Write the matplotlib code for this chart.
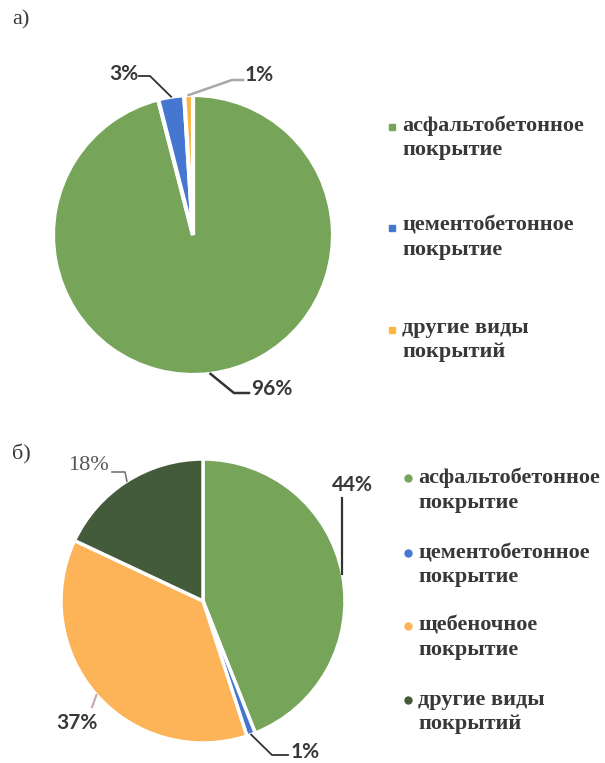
import numpy as np
import matplotlib
matplotlib.use("Agg")
import matplotlib.pyplot as plt

# --- data ---
labels_a = ['асфальтобетонное\nпокрытие', 'цементобетонное\nпокрытие', 'другие виды\nпокрытий']
values_a = [96, 3, 1]
colors_a = ['#76A55A', '#4677D0', '#FBB540']

labels_b = ['асфальтобетонное\nпокрытие', 'цементобетонное\nпокрытие',
            'щебеночное\nпокрытие', 'другие виды\nпокрытий']
values_b = [44, 1, 37, 18]
colors_b = ['#76A55A', '#4677D0', '#FDB357', '#435A3B']

W, H = 605, 763
TXT = '#383838'
fig = plt.figure(figsize=(W / 100, H / 100), dpi=100)


def pie_axes(cx, cy, r):
    ax = fig.add_axes([(cx - r) / W, (H - cy - r) / H, 2 * r / W, 2 * r / H])
    return ax


def rim(w, k=1.0):
    a = np.deg2rad((w.theta1 + w.theta2) / 2)
    return k * np.cos(a), k * np.sin(a)


def px(x, y, cx, cy, r):
    return (x - cx) / r, (cy - y) / r


# overlay axis in pixel coords for headings / legends
ov = fig.add_axes([0, 0, 1, 1])
ov.set_xlim(0, W)
ov.set_ylim(H, 0)
ov.axis('off')

serif = 'Liberation Serif'
ov.text(12, 20, 'а)', fontsize=16, family=serif, color=TXT, va='center')
ov.text(12, 454, 'б)', fontsize=16, family=serif, color=TXT, va='center')

lab = dict(family='Lato', weight='bold', fontsize=15, color=TXT, ha='center', va='center')

# ---------------- pie a ----------------
cxa, cya, ra = 193, 235, 140
ax1 = pie_axes(cxa, cya, ra)
wa, _ = ax1.pie(values_a, colors=colors_a, startangle=90, counterclock=False,
                wedgeprops=dict(edgecolor='white', linewidth=3))
ax1.set_xlim(-1, 1)
ax1.set_ylim(-1, 1)

# 3%
x0, y0 = rim(wa[1])
p1 = px(150, 76, cxa, cya, ra); p0 = px(139, 76, cxa, cya, ra)
ax1.plot([p0[0], p1[0], x0], [p0[1], p1[1], y0], color='#333333', lw=1.3, clip_on=False)
ax1.text(*px(124, 74, cxa, cya, ra), f'{values_a[1]}%', **lab)
# 1%
x0, y0 = rim(wa[2])
p0 = px(243, 80, cxa, cya, ra); p1 = px(232, 80, cxa, cya, ra)
ax1.plot([p0[0], p1[0], x0], [p0[1], p1[1], y0], color='#A8A8A8', lw=1.8, clip_on=False)
ax1.text(*px(259, 75, cxa, cya, ra), f'{values_a[2]}%', **lab)
# 96%
x0, y0 = rim(wa[0])
p1 = px(234, 393, cxa, cya, ra); p0 = px(249, 393, cxa, cya, ra)
ax1.plot([x0, p1[0], p0[0]], [y0, p1[1], p0[1]], color='#333333', lw=1.8, clip_on=False)
ax1.text(*px(272, 389, cxa, cya, ra), f'{values_a[0]}%', **lab)

leg = dict(fontsize=16, family=serif, weight='bold', color=TXT,
           va='top', ha='left', linespacing=1.27)

# legend a
leg_y_a = [127, 228, 330]
for lbl, col, y in zip(labels_a, colors_a, leg_y_a):
    ov.plot(392, y, marker='s', ms=5, color=col, mec=col)
    ov.text(402, y - 12, lbl, **leg)

# ---------------- pie b ----------------
cxb, cyb, rb = 203, 601, 142
ax2 = pie_axes(cxb, cyb, rb)
wb, _ = ax2.pie(values_b, colors=colors_b, startangle=90, counterclock=False,
                wedgeprops=dict(edgecolor='white', linewidth=2.5))
ax2.set_xlim(-1, 1)
ax2.set_ylim(-1, 1)

# 44%
x0, y0 = rim(wb[0])
p1 = px(343, 498, cxb, cyb, rb)
ax2.plot([x0, x0], [y0, p1[1]], color='#333333', lw=1.6, clip_on=False)
ax2.text(*px(352, 485, cxb, cyb, rb), f'{values_b[0]}%', **lab)
# 1%
x0, y0 = rim(wb[1])
p1 = px(272, 755, cxb, cyb, rb); p0 = px(288, 755, cxb, cyb, rb)
ax2.plot([x0, p1[0], p0[0]], [y0, p1[1], p0[1]], color='#333333', lw=1.3, clip_on=False)
ax2.text(*px(305, 752, cxb, cyb, rb), f'{values_b[1]}%', **lab)
# 37%
x0, y0 = rim(wb[2])
p1 = px(92, 707, cxb, cyb, rb)
ax2.plot([x0, p1[0]], [y0, p1[1]], color='#C8A8A8', lw=1.5, clip_on=False)
ax2.text(*px(77, 723, cxb, cyb, rb), f'{values_b[2]}%', **lab)
# 18%
x0, y0 = rim(wb[3])
p0 = px(112, 472, cxb, cyb, rb); p1 = px(125, 472, cxb, cyb, rb)
ax2.plot([p0[0], p1[0], x0], [p0[1], p1[1], y0], color='#777777', lw=1.2, clip_on=False)
ax2.text(*px(88, 465, cxb, cyb, rb), f'{values_b[3]}%', family=serif, fontsize=16,
         color='#555555', ha='center', va='center')

# legend b
leg_y_b = [480, 555, 628, 702]
for lbl, col, y in zip(labels_b, colors_b, leg_y_b):
    ov.plot(408, y - 2, marker='o', ms=5, color=col, mec=col)
    ov.text(418, y - 12, lbl, **leg)

fig.savefig('out.png', dpi=100)
